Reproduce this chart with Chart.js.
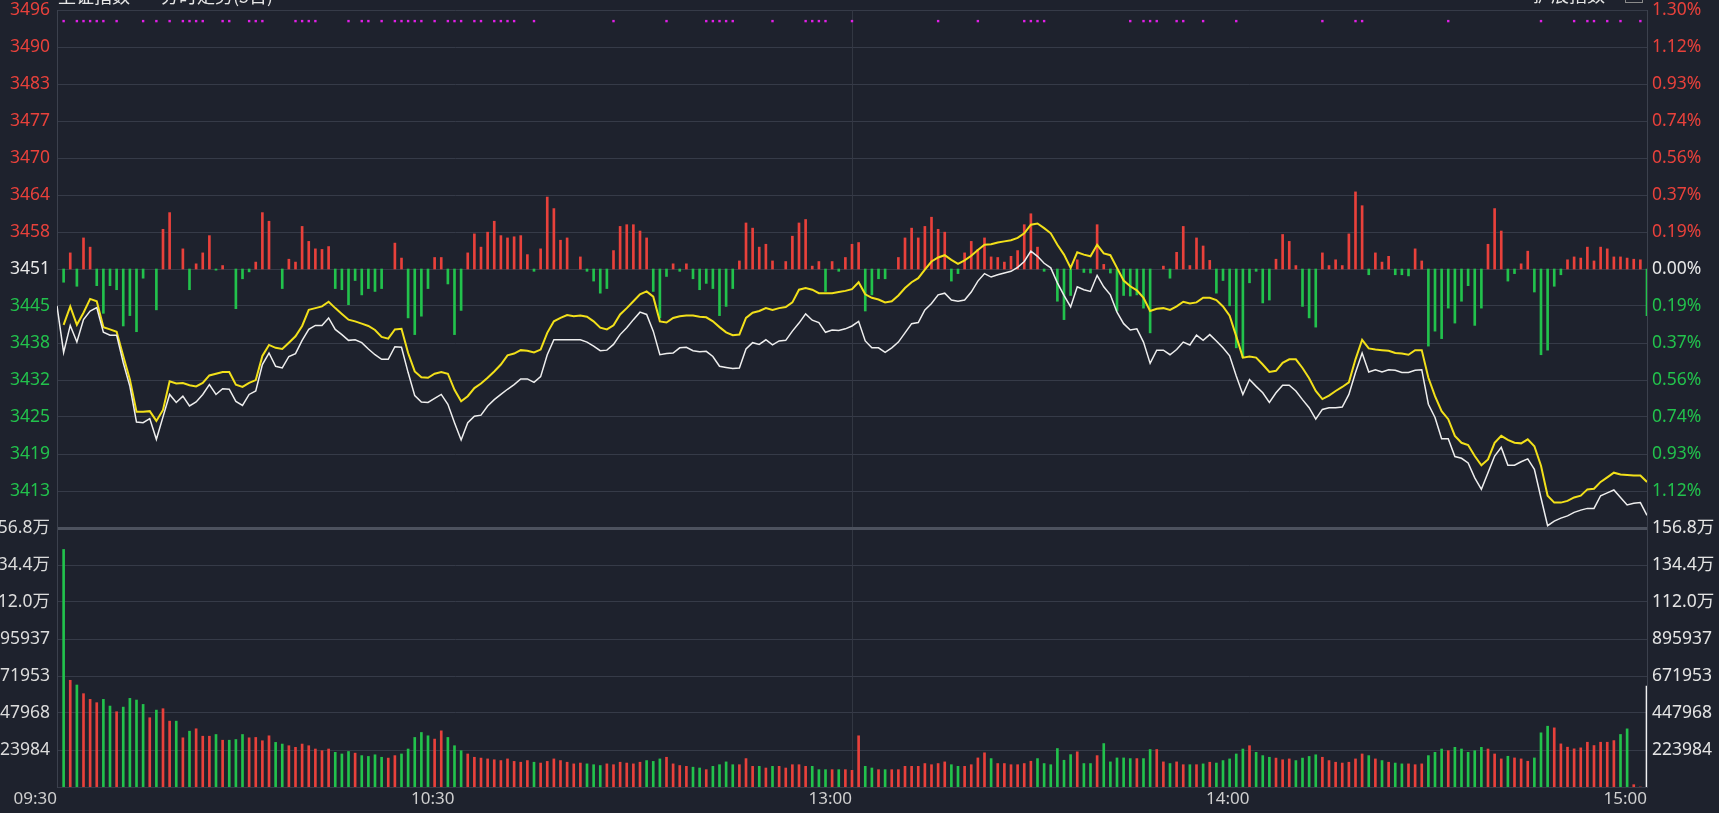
<!DOCTYPE html>
<html>
<head>
<meta charset="utf-8">
<script src="https://cdn.jsdelivr.net/npm/chart.js@4.4.1/dist/chart.umd.min.js"></script>
<style>
  html, body { margin: 0; padding: 0; background: #1e222d; overflow: hidden; }
  canvas { display: block; }
</style>
</head>
<body>
<canvas id="myCanvas" width="1719" height="813" style="width:1719px;height:813px"></canvas>
<script>
// axis labels
const timeLabels = ['09:30', '10:30', '13:00', '14:00', '15:00'];
const timeTicks = [0, 60, 120, 180, 240];
const priceTickLabels = ['3413', '3419', '3425', '3432', '3438', '3445', '3451', '3458', '3464', '3470', '3477', '3483', '3490', '3496'];
const pctTickLabels = ['1.12%', '0.93%', '0.74%', '0.56%', '0.37%', '0.19%', '0.00%', '0.19%', '0.37%', '0.56%', '0.74%', '0.93%', '1.12%', '1.30%'];
const volTickLabels = ['223984', '447968', '671953', '895937', '112.0万', '134.4万', '156.8万'];

const preClose = 3451.3;
const priceStep = 6.43;
const volStep = 223984;

// index price per minute, 09:30 .. 15:00
const priceLine = [
  3444.9, 3436.8, 3441.5, 3438.6, 3442.5, 3444.0, 3444.6, 3440.3, 3439.8, 3439.8,
  3435.0, 3430.9, 3424.7, 3424.6, 3425.3, 3421.7, 3425.6, 3429.5, 3428.1, 3429.2,
  3427.5, 3428.2, 3429.5, 3431.2, 3429.5, 3430.5, 3430.4, 3428.3, 3427.6, 3429.5,
  3430.1, 3434.7, 3436.7, 3434.4, 3434.1, 3436.1, 3436.6, 3438.9, 3440.8, 3441.5,
  3441.5, 3442.8, 3440.8, 3439.9, 3438.9, 3439.0, 3438.5, 3437.4, 3436.4, 3435.6,
  3435.6, 3437.8, 3437.7, 3433.3, 3429.3, 3428.2, 3428.1, 3428.8, 3429.5, 3427.8,
  3424.6, 3421.6, 3424.6, 3425.7, 3425.9, 3427.5, 3428.6, 3429.5, 3430.4, 3431.2,
  3432.2, 3432.2, 3431.6, 3432.6, 3436.4, 3439.0, 3439.0, 3439.0, 3439.0, 3439.0,
  3438.6, 3437.9, 3437.1, 3437.2, 3438.2, 3439.9, 3441.1, 3442.5, 3443.8, 3443.4,
  3440.5, 3436.4, 3436.6, 3436.7, 3437.6, 3437.7, 3437.1, 3436.9, 3437.0, 3436.1,
  3434.4, 3434.2, 3434.0, 3434.1, 3437.4, 3438.5, 3438.2, 3439.0, 3438.1, 3438.8,
  3438.9, 3440.5, 3441.9, 3443.5, 3442.4, 3442.0, 3440.3, 3440.7, 3440.6, 3440.9,
  3441.4, 3442.2, 3438.8, 3437.6, 3437.6, 3436.8, 3437.6, 3438.6, 3440.2, 3441.8,
  3442.0, 3444.2, 3445.3, 3446.8, 3447.1, 3445.9, 3445.7, 3445.9, 3447.3, 3449.2,
  3450.5, 3449.9, 3450.3, 3450.6, 3450.9, 3451.6, 3452.6, 3454.4, 3453.5, 3452.3,
  3451.5, 3448.9, 3446.7, 3444.7, 3448.2, 3447.7, 3447.4, 3450.2, 3448.2, 3446.8,
  3443.8, 3441.8, 3440.7, 3440.9, 3438.6, 3434.9, 3437.2, 3437.2, 3436.4, 3437.3,
  3438.6, 3438.1, 3439.8, 3438.9, 3439.9, 3438.8, 3437.6, 3436.2, 3432.7, 3429.5,
  3432.1, 3430.9, 3429.8, 3428.1, 3429.8, 3431.1, 3431.1, 3430.1, 3428.6, 3427.2,
  3425.2, 3426.9, 3427.2, 3427.2, 3427.3, 3429.5, 3433.3, 3436.7, 3433.4, 3433.8,
  3433.4, 3433.8, 3433.7, 3433.3, 3433.3, 3433.7, 3433.8, 3427.8, 3425.5, 3421.8,
  3421.8, 3418.7, 3418.4, 3417.6, 3415.0, 3413.0, 3415.9, 3418.8, 3420.3, 3417.2,
  3417.2, 3417.8, 3418.3, 3416.5, 3411.5, 3406.7, 3407.5, 3408.0, 3408.4, 3409.0,
  3409.4, 3409.7, 3409.7, 3411.9, 3412.4, 3412.9, 3411.6, 3410.3, 3410.6, 3410.7, 3408.5
];

// unweighted (yellow) line per minute
const leadLine = [
  null, 3441.6, 3444.8, 3441.6, 3443.7, 3446.1, 3445.7, 3441.2, 3440.8, 3440.4,
  3436.2, 3432.1, 3426.5, 3426.5, 3426.6, 3424.9, 3426.8, 3431.8, 3431.4, 3431.5,
  3431.1, 3430.9, 3431.5, 3432.8, 3433.1, 3433.4, 3433.4, 3431.2, 3430.8, 3431.5,
  3432.0, 3436.2, 3438.1, 3437.6, 3437.4, 3438.5, 3439.6, 3441.4, 3444.2, 3444.5,
  3444.8, 3445.6, 3444.5, 3443.5, 3442.5, 3442.2, 3441.8, 3441.4, 3440.7, 3439.5,
  3439.2, 3440.8, 3440.9, 3436.7, 3433.5, 3432.5, 3432.4, 3433.1, 3433.4, 3433.1,
  3430.3, 3428.3, 3429.2, 3430.6, 3431.4, 3432.4, 3433.5, 3434.7, 3436.3, 3436.6,
  3437.2, 3437.1, 3436.8, 3437.3, 3440.2, 3442.2, 3442.8, 3443.3, 3443.1, 3443.2,
  3443.0, 3442.2, 3441.1, 3440.8, 3441.5, 3443.4, 3444.5, 3445.7, 3446.9, 3447.4,
  3446.5, 3442.2, 3442.0, 3442.8, 3443.1, 3443.2, 3443.2, 3443.0, 3442.9, 3442.2,
  3441.2, 3440.3, 3439.8, 3439.9, 3442.8, 3443.7, 3444.0, 3444.5, 3444.2, 3444.5,
  3444.7, 3445.5, 3447.7, 3448.0, 3447.7, 3447.1, 3447.1, 3447.1, 3447.3, 3447.5,
  3447.8, 3449.0, 3446.9, 3446.3, 3446.0, 3445.5, 3445.7, 3446.7, 3448.0, 3449.0,
  3449.7, 3451.2, 3452.6, 3453.3, 3453.7, 3452.9, 3452.2, 3452.8, 3453.6, 3454.6,
  3455.5, 3455.6, 3455.9, 3456.1, 3456.3, 3456.7, 3457.5, 3459.0, 3459.2, 3458.4,
  3457.5, 3455.5, 3453.8, 3451.5, 3454.2, 3453.8, 3453.5, 3455.5, 3454.0, 3453.7,
  3451.5, 3449.3, 3448.3, 3447.6, 3446.3, 3444.0, 3444.4, 3444.5, 3444.2, 3444.8,
  3445.6, 3445.3, 3445.5, 3446.3, 3446.3, 3445.9, 3444.8, 3443.2, 3439.6, 3435.9,
  3436.1, 3435.9, 3434.7, 3433.4, 3433.6, 3435.0, 3435.6, 3435.6, 3434.1, 3432.3,
  3430.1, 3428.7, 3429.3, 3430.1, 3430.8, 3431.6, 3435.6, 3439.0, 3437.5, 3437.3,
  3437.2, 3437.1, 3436.7, 3436.6, 3436.4, 3437.2, 3437.2, 3432.4, 3429.2, 3426.6,
  3425.2, 3422.3, 3421.1, 3420.7, 3418.8, 3417.2, 3418.2, 3421.1, 3422.3, 3421.6,
  3421.1, 3421.0, 3421.7, 3420.5, 3417.1, 3411.9, 3410.7, 3410.7, 3411.0, 3411.6,
  3411.9, 3413.0, 3413.1, 3414.3, 3415.1, 3415.9, 3415.6, 3415.5, 3415.4, 3415.4, 3414.3
];

// red/green strength bars around the zero line, minutes 09:31 .. 15:00
const strengthBars = [
  -2.3, 2.8, -3.0, 5.4, 3.8, -2.9, -7.7, -2.9, -3.6, -9.9,
  -8.1, -10.9, -1.6, 0, -7.1, 6.9, 9.8, 0, 3.5, -3.6,
  0.9, 2.8, 5.8, -0.2, 0.6, 0, -6.9, -1.7, -0.5, 1.2,
  9.8, 8.3, 0, -3.4, 1.7, 1.2, 7.4, 4.8, 3.5, 3.4,
  3.9, -3.4, -3.6, -6.2, -2.0, -4.5, -3.4, -3.9, -3.4, 0,
  4.5, 1.9, -8.5, -11.4, -8.2, -3.4, 2.0, 2.0, -2.6, -11.4,
  -7.2, 2.8, 6.1, 3.8, 6.4, 8.3, 5.8, 5.4, 5.6, 5.8,
  2.5, -0.4, 3.5, 12.5, 10.5, 5.0, 5.4, 0, 2.1, -0.4,
  -2.1, -4.2, -3.4, 3.2, 7.4, 7.7, 7.7, 6.6, 5.4, -3.9,
  -8.5, -1.3, 0.9, -0.4, 0.9, -1.7, -3.6, -2.5, -3.4, -8.1,
  -6.5, -3.4, 1.4, 8.0, 7.1, 3.8, 4.3, 1.4, 0, 1.3,
  5.7, 8.0, 8.6, 0.5, 1.3, -3.9, 1.3, -0.4, 2.0, 4.3,
  4.6, -7.3, -4.5, -1.7, -1.7, 0, 2.0, 5.4, 7.1, 5.4,
  7.4, 9.0, 6.9, 6.4, -2.1, -0.8, 2.8, 4.8, 3.4, 5.4,
  2.1, 2.0, 1.2, 2.2, 3.2, 7.7, 9.6, 3.8, -0.4, 0,
  -5.6, -8.8, -4.6, 1.6, -0.6, -0.7, 7.7, 0.8, -0.7, -7.3,
  -4.6, -4.7, -4.5, -6.8, -11.1, 0, 0.5, -1.6, 2.9, 7.4,
  0.6, 5.4, 4.0, 1.5, -4.2, -2.0, -6.4, -13.7, -15.4, -2.4,
  -0.4, -5.9, -5.4, 1.7, 6.0, 4.8, 0.6, -6.5, -8.5, -10.1,
  2.8, 0.6, 1.6, 0.6, 6.1, 13.4, 11.0, -1.0, 2.8, 1.2,
  2.2, -1.0, -1.0, -1.2, 3.5, 1.4, -13.4, -10.8, -12.1, -6.8,
  -9.4, -5.6, -2.9, -9.8, -6.8, 4.3, 10.5, 6.6, -2.1, -0.8,
  0.9, 3.1, -4.0, -14.9, -14.1, -3.0, -1.0, 1.6, 2.1, 1.9,
  3.8, 1.4, 3.8, 3.5, 2.1, 2.1, 1.9, 1.7, 1.6, -8.1
];

// volume per minute, 09:31 .. 15:00
const volume = [
  1437900, 646000, 617400, 565000, 530500, 510400, 530500, 490000, 455700, 483700,
  536600, 526400, 500000, 419300, 465500, 474000, 398700, 398700, 297800, 337900,
  352500, 307500, 307500, 317800, 283200, 283200, 287400, 317800, 297800, 300000,
  280000, 310000, 270000, 260000, 250000, 240000, 260000, 250000, 230000, 220000,
  230000, 210000, 200000, 215000, 205000, 190000, 185000, 195000, 180000, 175000,
  190000, 200000, 230000, 300000, 330000, 310000, 290000, 340000, 300000, 250000,
  220000, 200000, 180000, 175000, 170000, 165000, 160000, 170000, 155000, 150000,
  160000, 150000, 145000, 155000, 170000, 160000, 150000, 140000, 145000, 140000,
  135000, 130000, 140000, 135000, 150000, 145000, 140000, 150000, 160000, 155000,
  170000, 180000, 140000, 130000, 125000, 120000, 115000, 105000, 125000, 135000,
  152000, 135000, 135000, 172000, 125000, 125000, 115000, 125000, 125000, 115000,
  135000, 135000, 125000, 125000, 105000, 105000, 105000, 105000, 105000, 101000,
  310000, 125000, 115000, 105000, 105000, 105000, 105000, 125000, 125000, 125000,
  142000, 135000, 142000, 152000, 135000, 125000, 125000, 135000, 176000, 207000,
  172000, 142000, 142000, 135000, 135000, 142000, 156000, 172000, 142000, 135000,
  233000, 162000, 196000, 213000, 142000, 142000, 190000, 263000, 152000, 176000,
  176000, 172000, 172000, 172000, 227000, 227000, 152000, 142000, 152000, 135000,
  135000, 135000, 140000, 150000, 145000, 160000, 170000, 200000, 230000, 250000,
  210000, 190000, 180000, 175000, 165000, 170000, 160000, 175000, 185000, 195000,
  180000, 160000, 150000, 145000, 150000, 170000, 200000, 190000, 170000, 160000,
  150000, 145000, 140000, 140000, 135000, 140000, 190000, 210000, 230000, 220000,
  240000, 230000, 210000, 220000, 240000, 230000, 200000, 170000, 186000, 176000,
  170000, 156000, 176000, 328000, 368000, 358000, 261000, 241000, 231000, 237000,
  271000, 251000, 271000, 271000, 281000, 318000, 352000, 14000, 0, 611000
];

// minute bars (0 = 09:31) that carry a magenta signal dot
const signalBars = [0, 2, 3, 4, 5, 6, 8, 12, 14, 16, 18, 19, 20, 21, 24, 25, 28, 29, 30,
  35, 36, 37, 38, 43, 45, 46, 48, 50, 51, 52, 53, 54, 56, 58, 59, 60, 62, 63, 65, 66, 67, 68,
  71, 83, 91, 97, 98, 99, 100, 101, 107, 112, 113, 114, 115, 119, 132, 138,
  145, 146, 147, 148, 161, 163, 164, 165, 168, 169, 172, 177, 190, 195, 196,
  209, 223, 228, 230, 231, 233, 235, 238];

const titleText = '上证指数';
const subTitleText = '分时走势(5日)';
const legendText = '扩展指数';

const RED = '#e8413b';
const GREEN = '#22c24c';
const WHITE = '#e8e8e8';
const GRID = '#363b48';

// tick list: 7 volume rows under 14 price rows
const tickKs = [];
for (let k = -14; k <= 7; k++) tickKs.push(k);
const leftLabels = [''].concat(volTickLabels, priceTickLabels);
const rightLabels = [''].concat(volTickLabels, pctTickLabels);

const yMax = preClose + 7 * priceStep;
const yMin = preClose - 14 * priceStep;

function setTicks(scale) {
  scale.ticks = tickKs.map(k => ({ value: preClose + k * priceStep }));
}
function tickColor(c) {
  const j = c.index;
  if (j <= 7) return '#dcdcdc';
  if (j < 14) return GREEN;
  if (j === 14) return WHITE;
  return RED;
}
function rightTickColor(c) {
  const j = c.index;
  if (j <= 7) return '#e4e4e4';
  if (j < 14) return GREEN;
  if (j === 14) return WHITE;
  return RED;
}

const volColors = volume.map((v, i) => {
  if (i === volume.length - 1) return '#f0f0f0';
  return priceLine[i + 1] >= priceLine[i] ? RED : GREEN;
});

const strengthData = [];
const strengthColors = [];
strengthBars.forEach((v, i) => {
  if (v === 0) return;
  strengthData.push({ x: i + 1, y: [preClose, preClose + v] });
  strengthColors.push(v > 0 ? RED : GREEN);
});

const headerText = {
  id: 'headerText',
  afterDraw(chart) {
    const c = chart.ctx;
    c.save();
    c.font = '18px "Noto Sans CJK SC", "Noto Sans", sans-serif';
    c.fillStyle = '#e6e6e6';
    c.textBaseline = 'alphabetic';
    c.textAlign = 'left';
    c.fillText(titleText, 58, 3);
    c.fillText(subTitleText, 161, 3);
    c.fillText(legendText, 1533, 2);
    c.strokeStyle = '#8a8a8a';
    c.strokeRect(1625.5, -10.5, 17, 13);
    c.restore();
  }
};

const ctx = document.getElementById('myCanvas');

const myChart = new Chart(ctx, {
  type: 'bar',
  data: {
    datasets: [
      {
        type: 'line',
        data: priceLine.map((v, i) => ({ x: i, y: v })),
        borderColor: '#eeeeee',
        borderWidth: 1.5,
        pointRadius: 0,
        tension: 0,
        yAxisID: 'y',
        order: 0
      },
      {
        type: 'line',
        data: leadLine.map((v, i) => ({ x: i, y: v })),
        borderColor: '#f2e01a',
        borderWidth: 2,
        pointRadius: 0,
        tension: 0,
        yAxisID: 'y',
        order: 1
      },
      {
        type: 'scatter',
        data: signalBars.map(i => ({ x: i + 1, y: preClose + 6.7 * priceStep })),
        pointStyle: 'rect',
        pointRadius: 1.7,
        backgroundColor: '#e020e6',
        borderWidth: 0,
        yAxisID: 'y',
        order: 2
      },
      {
        data: strengthData,
        backgroundColor: strengthColors,
        barThickness: 2,
        grouped: false,
        yAxisID: 'y',
        order: 3
      },
      {
        data: volume.map((v, i) => ({ x: i + 1, y: v })),
        backgroundColor: volColors,
        barThickness: 2,
        grouped: false,
        yAxisID: 'yv',
        order: 4
      }
    ]
  },
  options: {
    responsive: false,
    animation: false,
    devicePixelRatio: 1,
    layout: { padding: { top: 10 } },
    plugins: { legend: { display: false }, tooltip: { enabled: false } },
    scales: {
      x: {
        type: 'linear',
        min: 0,
        max: 240,
        offset: false,
        afterBuildTicks: s => { s.ticks = timeTicks.map(v => ({ value: v })); },
        afterFit: s => { s.height = 26; s.paddingLeft = 0; s.paddingRight = 0; },
        ticks: {
          callback: (v, i) => timeLabels[i],
          align: 'end',
          color: '#cfcfcf',
          font: { family: '"Noto Sans", sans-serif', size: 17 },
          maxRotation: 0,
          autoSkip: false,
          padding: 2
        },
        grid: {
          offset: false,
          drawTicks: false,
          color: c => (c.tick && c.tick.value === 120 ? '#41465296' : 'rgba(0,0,0,0)')
        },
        border: { display: false }
      },
      y: {
        position: 'left',
        min: yMin,
        max: yMax,
        beginAtZero: false,
        afterBuildTicks: setTicks,
        afterFit: s => { s.width = 57; s.paddingTop = 0; s.paddingBottom = 0; },
        ticks: {
          callback: (v, i) => leftLabels[i],
          color: tickColor,
          font: { family: '"Noto Sans", "Noto Sans CJK SC", sans-serif', size: 17.5 },
          padding: 7,
          autoSkip: false
        },
        grid: {
          drawTicks: false,
          color: c => (c.index === 7 ? '#4d525e' : GRID),
          lineWidth: c => (c.index === 7 ? 3 : 1)
        },
        border: { display: true, color: '#3c414d' }
      },
      yr: {
        position: 'right',
        min: yMin,
        max: yMax,
        beginAtZero: false,
        afterBuildTicks: setTicks,
        afterFit: s => { s.width = 72; s.paddingTop = 0; s.paddingBottom = 0; },
        ticks: {
          callback: (v, i) => rightLabels[i],
          color: rightTickColor,
          font: { family: '"Noto Sans", "Noto Sans CJK SC", sans-serif', size: 17.5 },
          padding: 5,
          autoSkip: false
        },
        grid: { display: false, drawTicks: false },
        border: { display: true, color: '#3c414d' }
      },
      yv: {
        display: false,
        min: 0,
        max: volStep * 21
      }
    }
  },
  plugins: [headerText]
});
</script>
</body>
</html>
